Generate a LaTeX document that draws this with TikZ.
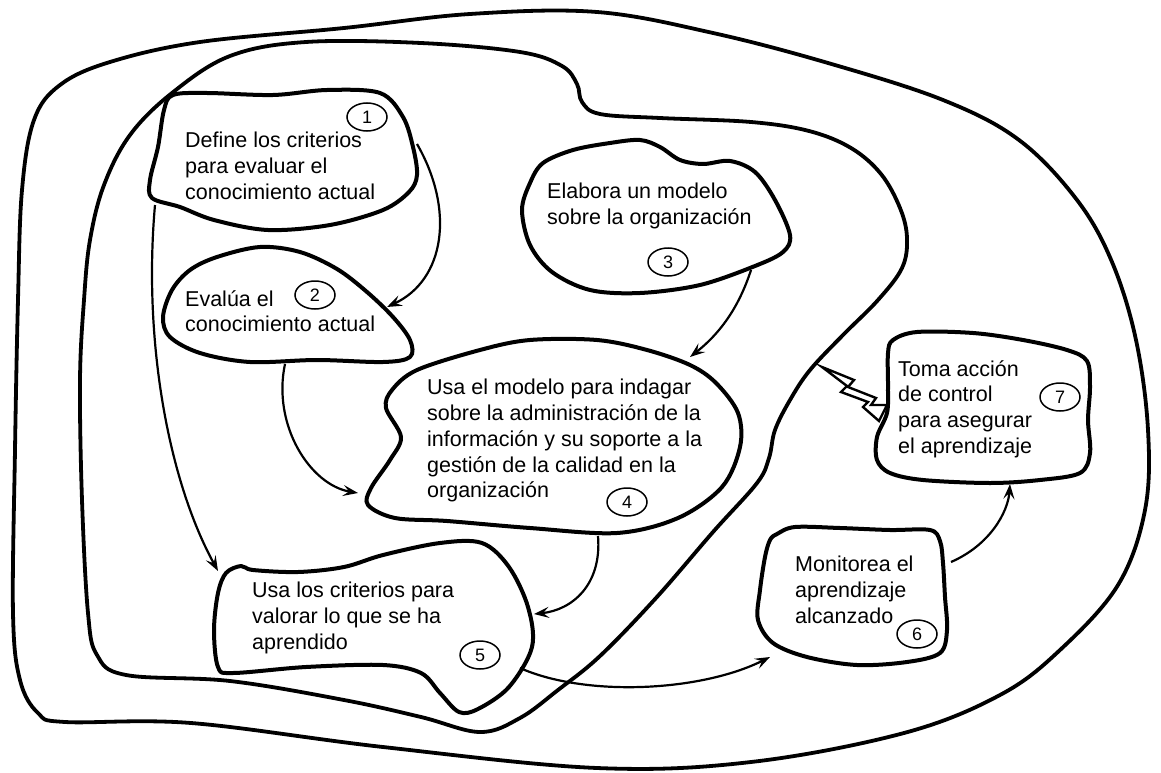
\documentclass[tikz,border=0pt]{standalone}
\usepackage{fontspec}
\setmainfont{Liberation Sans}
\usetikzlibrary{arrows.meta,shapes.geometric}
\begin{document}
\begin{tikzpicture}[x=1pt,y=-1pt,
  loopline/.style={line width=3.8pt, line join=round},
  blob/.style={line width=4pt, line join=round, fill=white},
  label/.style={anchor=north west, inner sep=0pt, align=left, font=\fontsize{21.5}{25.8}\selectfont},
  num/.style={ellipse, draw, line width=1.5pt, minimum width=40pt, minimum height=28pt, inner sep=0pt, font=\fontsize{18}{18}\selectfont},
  flow/.style={line width=2.2pt, -{Stealth[length=15pt,width=11pt,inset=6pt]}},
  bolt/.style={line width=2.4pt, fill=white, line join=miter}]
\useasboundingbox (0,0) rectangle (1161,773);

% outer loop
\draw[loopline] plot[smooth cycle, tension=0.6] coordinates {
  (597,12) (713,33) (828,63) (943,100) (1019,140) (1077,200) (1112,262) (1136,340)
  (1148,430) (1145,510) (1118,585) (1060,650) (1000,695) (904,733) (751,762) (597,768)
  (383,747) (191,723) (65,722) (38,713) (20,680) (13,613) (15,450) (18,300) (22,190)
  (34,120) (60,85) (110,62) (200,42) (344,28) (470,14)};

% inner loop
\draw[loopline] plot[smooth cycle, tension=0.6] coordinates {
  (80,380) (84,300) (90,240) (104,185) (130,135) (172,93) (230,56) (306,42) (421,43)
  (520,52) (562,66) (577,84) (582,102) (600,114) (660,118) (751,122) (809,131)
  (851,148) (881,174) (900,208) (907,238) (902,268) (878,300) (843,335) (810,370)
  (790,400) (775,430) (769,458) (757,483) (713,532) (656,598) (600,656) (558,690)
  (520,718) (480,732) (421,717) (344,700) (230,681) (126,675) (97,655) (88,613) (82,500)};

% step 1
\draw[blob] plot[smooth cycle, tension=0.55] coordinates {
  (173,95) (207,93) (273,95) (327,90) (380,93) (403,117) (413,147) (417,175)
  (409,192) (383,210) (330,225) (268,230) (214,220) (180,207) (152,198) (150,180)
  (158,147) (164,110)};
\node[label] (t1) at (185,132) {Define los criterios\\para evaluar el\\conocimiento actual};
\node[num] (n1) at (367,117) {1};

% step 2
\draw[blob] plot[smooth cycle, tension=0.55] coordinates {
  (190,270) (217,257) (260,247) (300,252) (337,269) (367,292) (393,317) (410,340)
  (410,357) (383,362) (317,360) (250,362) (200,353) (170,337) (163,317) (172,290)};
\node[label] (t2) at (185,290) {Evalúa el\\conocimiento actual};
\node[num] (n2) at (315,295) {2};

% step 3
\draw[blob] plot[smooth cycle, tension=0.55] coordinates {
  (543,163) (573,150) (610,143) (640,140) (660,147) (680,160) (703,164) (730,161)
  (755,172) (775,200) (790,235) (783,252) (755,266) (700,285) (640,293) (590,290)
  (552,272) (530,245) (522,210) (530,183)};
\node[label] (t3) at (547,183) {Elabora un modelo\\sobre la organización};
\node[num] (n3) at (668,262) {3};

% step 4
\draw[blob] plot[smooth cycle, tension=0.55] coordinates {
  (417,370) (480,350) (530,340) (597,340) (647,350) (690,365) (716,383) (738,413)
  (740,447) (722,487) (678,518) (617,533) (530,528) (447,521) (395,518) (368,505)
  (371,488) (390,460) (401,437) (386,408) (392,390)};
\node[label] (t4) at (427,379) {Usa el modelo para indagar\\sobre la administración de la\\información y su soporte a la\\gestión de la calidad en la\\organización};
\node[num] (n4) at (627,502) {4};

% step 5
\draw[blob] plot[smooth cycle, tension=0.55] coordinates {
  (241,566) (253,570) (298,572) (344,567) (383,555) (440,543) (482,543) (509,567)
  (528,607) (532,647) (509,687) (478,709) (459,712) (440,693) (421,673) (383,665)
  (306,667) (233,673) (218,667) (214,630) (218,593) (226,573)};
\node[label] (t5) at (252,582) {Usa los criterios para\\valorar lo que se ha\\aprendido};
\node[num] (n5) at (480,655) {5};

% step 6
\draw[blob] plot[smooth cycle, tension=0.55] coordinates {
  (777,534) (795,527) (840,528) (890,530) (930,530) (940,541) (943,563) (945,597)
  (947,630) (940,653) (907,662) (857,665) (807,657) (773,643) (758,620) (760,590)
  (765,557) (770,540)};
\node[label] (t6) at (795,556) {Monitorea el\\aprendizaje\\alcanzado};
\node[num] (n6) at (917,634) {6};

% step 7
\draw[blob] plot[smooth cycle, tension=0.55] coordinates {
  (893,340) (917,332) (973,333) (1023,340) (1067,350) (1087,361) (1090,387)
  (1088,420) (1090,453) (1080,473) (1040,480) (990,483) (923,480) (890,473)
  (877,460) (877,437) (887,413) (888,387) (888,353)};
\node[label] (t7) at (898,360) {Toma acción\\de control\\para asegurar\\el aprendizaje};
\node[num] (n7) at (1060,397) {7};

% lightning from step 7 to the inner loop
\draw[bolt] (822,367) -- (854,380) -- (848,387) -- (876,398) -- (871,405) -- (887,405)
  -- (879,421) -- (863,407) -- (868,402) -- (841,392) -- (847,386) -- cycle;

% connector end points
\coordinate (p1r) at (417,144);
\coordinate (p1l) at (155,205);
\coordinate (p2r) at (387,307);
\coordinate (p2b) at (285,364);
\coordinate (p3b) at (751,270);
\coordinate (p4t) at (690,357);
\coordinate (p4l) at (358,493);
\coordinate (p4b) at (598,536);
\coordinate (p5r) at (534,614);
\coordinate (p5t) at (218,571);
\coordinate (p5b) at (520,668);
\coordinate (p6l) at (770,657);
\coordinate (p6r) at (951,562);
\coordinate (p7b) at (1010,484);

% connectors
\draw[flow] (p1r) .. controls (455,210) and (445,280) .. (p2r);
\draw[flow] (p1l) .. controls (143,340) and (168,480) .. (p5t);
\draw[flow] (p2b) .. controls (272,425) and (310,485) .. (p4l);
\draw[flow] (p3b) .. controls (738,310) and (718,335) .. (p4t);
\draw[flow] (p4b) .. controls (602,585) and (572,610) .. (p5r);
\draw[flow] (p5b) .. controls (585,697) and (700,692) .. (p6l);
\draw[flow] (p6r) .. controls (990,545) and (1008,512) .. (p7b);
\end{tikzpicture}
\end{document}
